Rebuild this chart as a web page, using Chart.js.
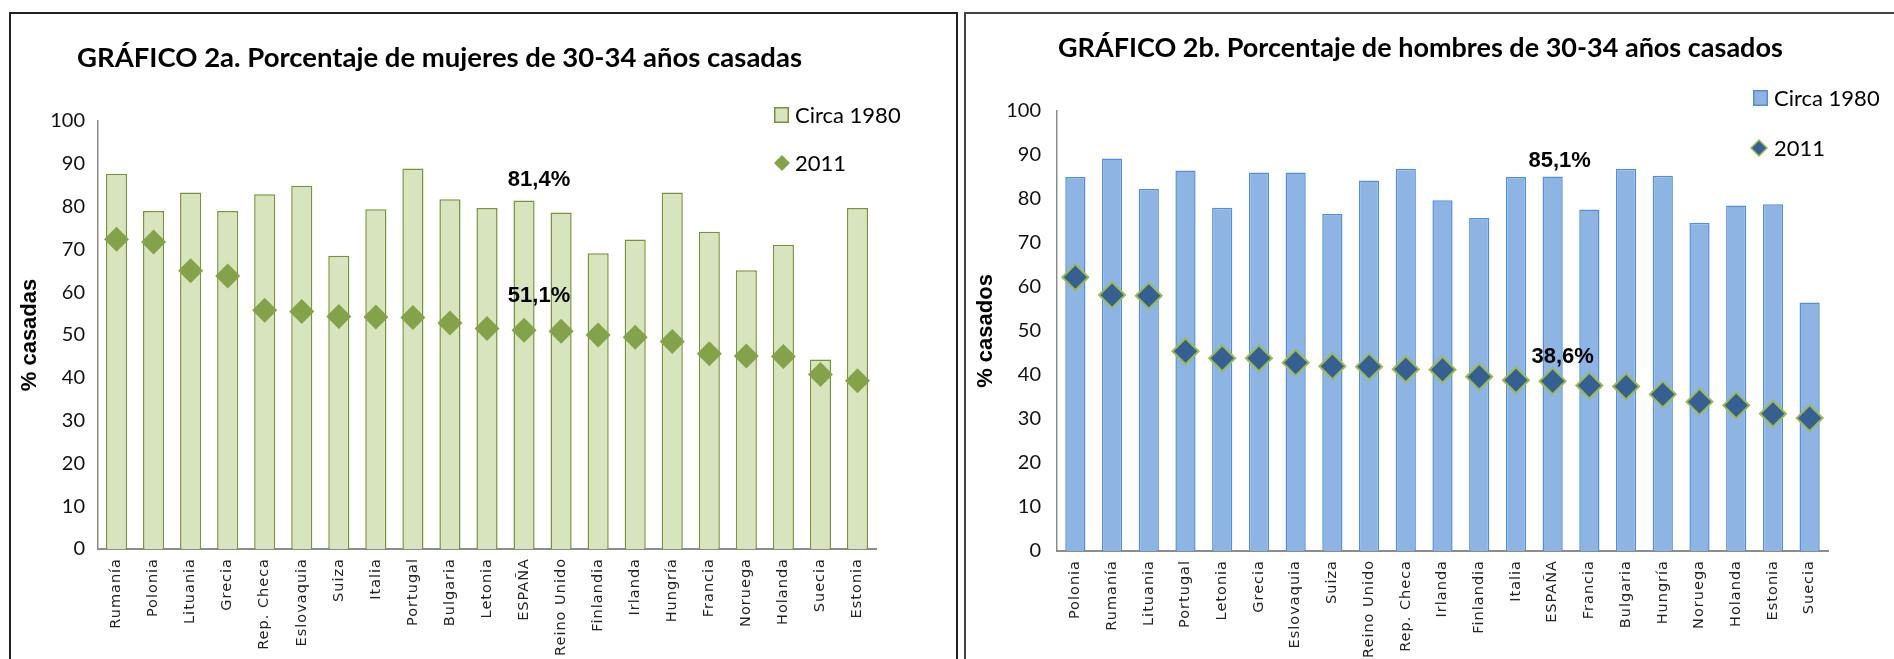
<!DOCTYPE html>
<html><head><meta charset="utf-8">
<script src="https://cdn.jsdelivr.net/npm/chart.js@4/dist/chart.umd.min.js"></script>
<style>
html,body{margin:0;padding:0;background:#fff;width:1894px;height:659px;overflow:hidden;}
.panel{position:absolute;box-sizing:border-box;}
#pa{left:9px;top:12px;width:949px;height:700px;border:2px solid #222;}
#pb{left:964px;top:12px;width:1000px;height:700px;border:2px solid #444;}
canvas{position:absolute;top:0;}
</style></head><body>
<div class="panel" id="pa"></div><div class="panel" id="pb"></div>
<canvas id="ca" width="960" height="659" style="left:0"></canvas>
<canvas id="cb" width="934" height="659" style="left:960px"></canvas>
<script>
// ---- Data ----
const titleA = 'GRÁFICO 2a. Porcentaje de mujeres de 30-34 años casadas';
const titleB = 'GRÁFICO 2b. Porcentaje de hombres de 30-34 años casados';
const axisTitleA = '% casadas';
const axisTitleB = '% casados';
const seriesNames = ['Circa 1980', '2011'];
const yTicks = [0, 10, 20, 30, 40, 50, 60, 70, 80, 90, 100];

const categoriesA = ['Rumanía','Polonia','Lituania','Grecia','Rep. Checa','Eslovaquia','Suiza','Italia','Portugal','Bulgaria','Letonia','ESPAÑA','Reino Unido','Finlandia','Irlanda','Hungría','Francia','Noruega','Holanda','Suecia','Estonia'];
const circa1980A = [87.7,79.0,83.3,79.0,82.9,84.9,68.5,79.4,88.9,81.7,79.7,81.4,78.6,69.1,72.3,83.3,74.1,65.1,71.1,44.3,79.7];
const y2011A = [72.4,71.7,65.0,63.8,55.8,55.5,54.3,54.2,54.1,52.8,51.5,51.1,50.9,50.0,49.5,48.5,45.6,45.1,45.0,40.8,39.3];

const categoriesB = ['Polonia','Rumanía','Lituania','Portugal','Letonia','Grecia','Eslovaquia','Suiza','Reino Unido','Rep. Checa','Irlanda','Finlandia','Italia','ESPAÑA','Francia','Bulgaria','Hungría','Noruega','Holanda','Estonia','Suecia'];
const circa1980B = [85.0,89.2,82.3,86.5,78.0,86.0,86.0,76.6,84.2,86.9,79.7,75.7,85.0,85.1,77.6,86.9,85.3,74.6,78.5,78.8,56.5];
const y2011B = [62.2,58.2,58.0,45.4,43.8,43.8,42.8,42.0,41.9,41.3,41.2,39.6,38.8,38.6,37.6,37.4,35.6,33.9,33.1,31.2,30.2];

const highlight = 'ESPAÑA';

function fmt(v){ return v.toFixed(1).replace('.', ',') + '%'; }

const deco = {
  id: 'deco',
  afterDatasetsDraw(chart) {
    // x labels are drawn on a later layer; give them the wide letter spacing of the original
    chart.ctx.letterSpacing = '1px';
  },
  afterDraw(chart, args, o) {
    const {ctx} = chart;
    ctx.letterSpacing = '0px';
    const x = chart.scales.x, y = chart.scales.y;
    ctx.save();
    ctx.textBaseline = 'middle';
    ctx.textAlign = 'left';
    ctx.fillStyle = '#000';
    ctx.font = 'bold ' + o.titleSize + 'px Lato';
    ctx.fillText(o.title, o.titleX, o.titleY);
    // legend
    ctx.font = '22px Lato';
    const L = o.legend;
    ctx.fillStyle = o.barFill; ctx.strokeStyle = o.barBorder; ctx.lineWidth = 1.5;
    ctx.fillRect(L.sqX, L.sqY - 8, 15, 16);
    ctx.strokeRect(L.sqX + 0.75, L.sqY - 8 + 0.75, 13.5, 14.5);
    ctx.fillStyle = '#000';
    ctx.fillText(seriesNames[0], L.textX, L.sqY + 1);
    ctx.beginPath();
    ctx.moveTo(L.dX - 8, L.dY); ctx.lineTo(L.dX, L.dY - 8); ctx.lineTo(L.dX + 8, L.dY); ctx.lineTo(L.dX, L.dY + 8); ctx.closePath();
    ctx.fillStyle = o.ptFill; ctx.fill();
    if (o.ptBorder) { ctx.strokeStyle = o.ptBorder; ctx.lineWidth = 1.5; ctx.stroke(); }
    ctx.fillStyle = '#000';
    ctx.fillText(seriesNames[1], L.textX, L.dY + 1);
    // annotations
    ctx.font = 'bold 22px "Liberation Sans"';
    ctx.textAlign = 'center';
    o.notes.forEach(n => {
      const px = x.getPixelForValue(n.index) + n.dx;
      const py = y.getPixelForValue(n.value) + n.dy;
      ctx.fillText(fmt(n.value), px, py);
    });
    ctx.restore();
  }
};

function makeChart(id, cfg) {
  const idx = cfg.categories.indexOf(highlight);
  return new Chart(document.getElementById(id), {
    data: {
      labels: cfg.categories,
      datasets: [
        { type: 'line', label: seriesNames[1], data: cfg.pts, showLine: false, order: 0,
          pointStyle: 'rectRot', pointRadius: cfg.ptR, pointHoverRadius: cfg.ptR,
          backgroundColor: cfg.ptFill, borderColor: cfg.ptBorder || cfg.ptFill, pointBorderWidth: cfg.ptBorder ? 2 : 0 },
        { type: 'bar', label: seriesNames[0], data: cfg.bars, order: 1,
          backgroundColor: cfg.barFill, borderColor: cfg.barBorder, borderWidth: 1.5,
          barPercentage: cfg.barPct, categoryPercentage: 1 }
      ]
    },
    options: {
      responsive: false, animation: false,
      layout: { padding: { left: 0, right: cfg.padR, top: cfg.padT, bottom: 0 } },
      plugins: {
        legend: { display: false }, tooltip: { enabled: false },
        deco: {
          title: cfg.title, titleX: cfg.titleX, titleY: cfg.titleY, titleSize: cfg.titleSize,
          legend: cfg.legend, barFill: cfg.barFill, barBorder: cfg.barBorder,
          ptFill: cfg.ptFill, ptBorder: cfg.ptBorder,
          notes: [
            { index: idx, value: cfg.bars[idx], dx: cfg.n1dx, dy: cfg.n1dy },
            { index: idx, value: cfg.pts[idx], dx: cfg.n2dx, dy: cfg.n2dy }
          ]
        }
      },
      scales: {
        x: {
          grid: { display: false, drawTicks: false },
          border: { display: true, color: '#8c8c8c', width: 2 },
          ticks: { autoSkip: false, maxRotation: 90, minRotation: 90, padding: 9, z: 1,
                   color: '#222', font: { family: '"DejaVu Sans", Verdana, sans-serif', size: 14.5 } },
          afterFit: s => { s.height = cfg.xH; }
        },
        y: {
          min: 0, max: 100,
          grid: { display: false, drawTicks: false },
          border: { display: true, color: '#8c8c8c', width: 1.5 },
          afterBuildTicks: s => { s.ticks = yTicks.map(v => ({ value: v })); },
          ticks: { padding: cfg.tickPad, color: '#111', font: { family: 'Lato', size: 20 } },
          title: { display: true, text: cfg.axisTitle, color: '#000',
                   font: { family: '"Liberation Sans"', size: 22, weight: 'bold', lineHeight: 1.2 },
                   padding: { top: cfg.atPad, bottom: 0 } },
          afterFit: s => { s.width = cfg.yW; }
        }
      }
    },
    plugins: [deco]
  });
}

makeChart('ca', {
  categories: categoriesA, bars: circa1980A, pts: y2011A,
  barFill: '#d7e4bd', barBorder: '#77933c', ptFill: '#84a24a', ptBorder: null, ptR: 12.5,
  barPct: 0.57, tickPad: 13,
  padR: 84, padT: 121, xH: 110, yW: 98, atPad: 17,
  title: titleA, titleX: 77, titleY: 58, titleSize: 27.5, axisTitle: axisTitleA,
  legend: { sqX: 774, sqY: 115, dX: 782, dY: 163, textX: 795 },
  n1dx: 15, n1dy: -21, n2dx: 15, n2dy: -34
});

makeChart('cb', {
  categories: categoriesB, bars: circa1980B, pts: y2011B,
  barFill: '#8eb4e3', barBorder: '#558ed5', ptFill: '#376092', ptBorder: '#9bbb59', ptR: 13,
  barPct: 0.55, tickPad: 16,
  padR: 66, padT: 111, xH: 108, yW: 97, atPad: 13,
  title: titleB, titleX: 98, titleY: 48, titleSize: 27, axisTitle: axisTitleB,
  legend: { sqX: 793, sqY: 98, dX: 799, dY: 148, textX: 814 },
  n1dx: 7, n1dy: -16, n2dx: 10, n2dy: -24
});
</script>
</body></html>
